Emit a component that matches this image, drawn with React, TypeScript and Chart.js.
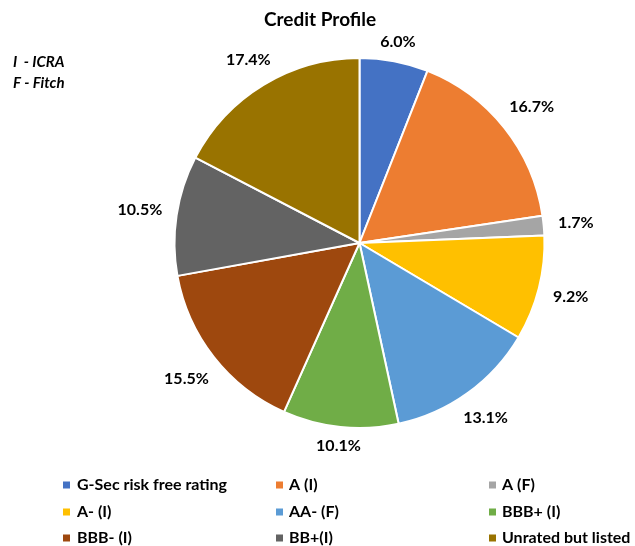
import React, { useEffect, useRef } from "react";
import { Chart, registerables } from "chart.js";

Chart.register(...registerables);

const categories = [
  "G-Sec risk free rating",
  "A (I)",
  "A (F)",
  "A- (I)",
  "AA- (F)",
  "BBB+ (I)",
  "BBB- (I)",
  "BB+(I)",
  "Unrated but listed",
];
const shares = [6.0, 16.7, 1.7, 9.2, 13.1, 10.1, 15.5, 10.5, 17.4];
const colors = [
  "#4472C4",
  "#ED7D31",
  "#A5A5A5",
  "#FFC000",
  "#5B9BD5",
  "#70AD47",
  "#9E480E",
  "#636363",
  "#997300",
];
const titleText = "Credit Profile";
const notes = ["I  - ICRA", "F - Fitch"];

const FONT = "Lato, 'Open Sans', sans-serif";

const overlayPlugin = {
  id: "overlay",
  afterDraw(chart: any) {
    const ctx = chart.ctx as CanvasRenderingContext2D;
    ctx.save();
    // title
    ctx.fillStyle = "#000";
    ctx.textAlign = "center";
    ctx.textBaseline = "middle";
    ctx.font = `bold 19px ${FONT}`;
    ctx.fillText(titleText, 320, 20);

    // notes
    ctx.textAlign = "left";
    ctx.font = `italic bold 15px ${FONT}`;
    notes.forEach((n, i) => ctx.fillText(n, 13, 62 + i * 21));

    // value labels
    const meta = chart.getDatasetMeta(0);
    ctx.font = `bold 16px ${FONT}`;
    ctx.textAlign = "center";
    meta.data.forEach((arc: any, i: number) => {
      const mid = (arc.startAngle + arc.endAngle) / 2;
      const ux = Math.cos(mid);
      const uy = Math.sin(mid);
      const txt = shares[i].toFixed(1) + "%";
      const w = ctx.measureText(txt).width;
      const d = arc.outerRadius + 9 + Math.abs(ux) * (w / 2 + 5) + Math.abs(uy) * 7;
      ctx.fillText(txt, arc.x + ux * d, arc.y + uy * d);
    });

    // legend
    const markerX = [63, 276, 489];
    const textX = [77, 289, 502];
    const rowY = [485, 512, 538];
    ctx.textAlign = "left";
    ctx.font = `bold 16px ${FONT}`;
    categories.forEach((c, i) => {
      const col = i % 3;
      const row = Math.floor(i / 3);
      ctx.fillStyle = colors[i];
      ctx.fillRect(markerX[col], rowY[row] - 3.5, 7, 7);
      ctx.fillStyle = "#000";
      ctx.fillText(c, textX[col], rowY[row]);
    });
    ctx.restore();
  },
};

export default function App() {
  const ref = useRef<HTMLCanvasElement | null>(null);
  useEffect(() => {
    if (!ref.current) return;
    const chart = new Chart(ref.current, {
      type: "pie",
      data: {
        labels: categories,
        datasets: [
          {
            data: shares,
            backgroundColor: colors,
            borderColor: "#ffffff",
            borderWidth: 2,
          },
        ],
      },
      options: {
        animation: false,
        responsive: false,
        radius: 185,
        layout: { padding: { left: 84, right: 0, top: 40, bottom: 100 } },
        plugins: {
          legend: { display: false },
          title: { display: false },
          tooltip: { enabled: false },
        },
      } as any,
      plugins: [overlayPlugin],
    });
    return () => chart.destroy();
  }, []);
  return (
    <div style={{ position: "fixed", left: 0, top: 0, width: 635, height: 546, background: "#fff" }}>
      <canvas ref={ref} width={635} height={546} style={{ width: 635, height: 546 }} />
    </div>
  );
}
